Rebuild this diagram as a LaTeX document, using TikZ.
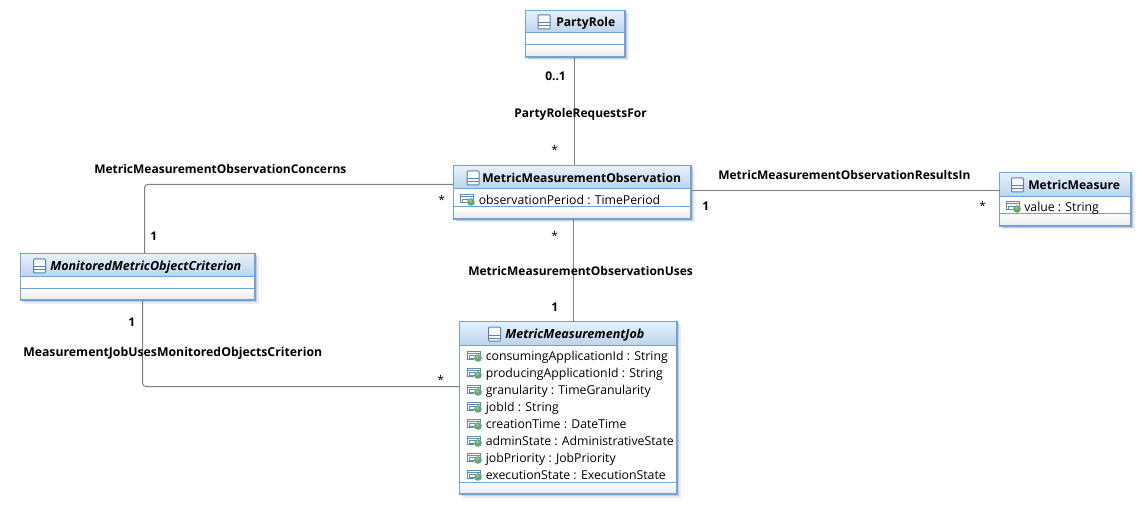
\documentclass[tikz,border=0pt]{standalone}
\usepackage{fontspec}
\setmainfont{Open Sans}
\usetikzlibrary{calc}
\definecolor{umlborder}{HTML}{6FA3D9}
\definecolor{headtop}{HTML}{E8F2FC}
\definecolor{headbot}{HTML}{BAD4EC}
\definecolor{linegray}{HTML}{7F7F7F}
\definecolor{ballgreen}{HTML}{5FA86A}
\tikzset{
  umlbox/.style={draw=umlborder,line width=1.1pt,fill=white,anchor=north west,inner sep=0pt,outer sep=0pt},
  sep/.style={draw=umlborder,line width=.75pt},
  conn/.style={draw=linegray,line width=.75pt},
  rolelabel/.style={anchor=west,inner sep=0pt,font=\fontsize{9}{11}\selectfont\bfseries,text=black,text height=9.3pt,text depth=2pt},
  widelabel/.style={anchor=west,inner sep=0pt,font=\fontsize{9.2}{11}\selectfont\bfseries,text=black,text height=9.3pt,text depth=2pt},
  starlabel/.style={anchor=west,inner sep=0pt,font=\fontsize{9}{11}\selectfont,text=black,text height=9.3pt,text depth=2pt},
  titletext/.style={anchor=west,inner sep=0pt,font=\fontsize{9.1}{11}\selectfont\bfseries,text=black,text height=9.3pt,text depth=2pt},
  attrtext/.style={anchor=west,inner sep=0pt,font=\fontsize{9.2}{11}\selectfont,text=black,text height=9.3pt,text depth=2pt},
}
% name, x1,y1,x2,y2(header bottom),y3(attr bottom),y4(bottom)
\newcommand{\classbox}[7]{%
  \fill[black!8] (#2+3.5,#3+3.5) rectangle (#4+3.5,#7+3.5);
  \fill[black!20] (#2+2,#3+2) rectangle (#4+2,#7+2);
  \node[umlbox,minimum width={(#4-#2)*0.75pt},minimum height={(#7-#3)*0.75pt}] (#1) at (#2,#3) {};
  \shade[top color=headtop,bottom color=headbot] (#2,#3) rectangle (#4,#5);
  \shade[top color=white,bottom color=black!9] (#2,#6) rectangle (#4,#7);
  \draw[sep] (#2,#5) -- (#4,#5);
  \draw[sep] (#2,#6) -- (#4,#6);
  \draw[umlborder,line width=1.1pt] (#2,#3) rectangle (#4,#7);
}
% name, icon x, y centre, text x, text, font switch
\newcommand{\classtitle}[6]{%
  \begin{scope}[shift={(#2,#3)}]
    \fill[black!2] (0,-7) rectangle (12,7);
    \draw[umlborder!80!black,line width=.75pt,rounded corners=.75pt] (0,-7) rectangle (12,7);
    \draw[umlborder!80!black,line width=.75pt] (0,1) -- (12,1) (0,4) -- (12,4);
  \end{scope}
  \node[titletext] (#1) at (#4,#3) {#6#5};
}
% name, icon x, y, text x, text
\newcommand{\attr}[5]{%
  \begin{scope}[shift={(#2,#3)}]
    \draw[umlborder!85!black,line width=.75pt,fill=white] (0,-5) rectangle (13,3);
    \draw[umlborder!85!black,line width=.75pt] (0,-3) -- (13,-3);
    \fill[white] (7,-1) rectangle (14,6);
    \draw[fill=white,draw=umlborder!85!black,line width=.6pt] (2,-1) rectangle (8,2);
    \fill[ballgreen] (11,2) circle (3.8);
    \fill[white,opacity=.3] (10.5,1) circle (1.8);
  \end{scope}
  \node[attrtext] (#1) at (#4,#3) {#5};
}
\newcommand{\italtitle}{\itshape\fontsize{9.4}{11}\selectfont}
\begin{document}
\begin{tikzpicture}[x=0.75pt,y=-0.75pt]
\useasboundingbox[fill=white] (0,0) rectangle (1144,509);
% boxes
\classbox{party}{525.5}{10.5}{625}{33}{45}{57}
\classtitle{partyT}{538}{22}{556}{PartyRole}{}
\classbox{obs}{453.5}{165.5}{691}{189}{207}{219}
\classtitle{obsT}{467}{178}{482}{MetricMeasurementObservation}{}
\attr{obsA}{460}{200}{478.5}{observationPeriod : TimePeriod}
\classbox{mon}{20.5}{253.5}{255}{277}{289}{300}
\classtitle{monT}{33.5}{266}{50}{MonitoredMetricObjectCriterion}{\italtitle}
\classbox{job}{459.5}{321.5}{677}{345}{482}{494}
\classtitle{jobT}{488.5}{334}{505}{MetricMeasurementJob}{\italtitle}
\attr{a1}{467}{356}{485.5}{consumingApplicationId : String}
\attr{a2}{467}{373}{485.5}{producingApplicationId : String}
\attr{a3}{467}{390}{485.5}{granularity : TimeGranularity}
\attr{a4}{467}{407}{485.5}{jobId : String}
\attr{a5}{467}{424}{485.5}{creationTime : DateTime}
\attr{a6}{467}{441}{485.5}{adminState : AdministrativeState}
\attr{a7}{467}{458}{485.5}{jobPriority : JobPriority}
\attr{a8}{467}{475}{485.5}{executionState : ExecutionState}
\classbox{meas}{999.5}{172.5}{1131}{197}{214}{226}
\classtitle{measT}{1011.5}{185}{1028}{MetricMeasure}{}
\attr{measA}{1006}{207}{1024}{value : String}
% routing coordinates
\coordinate (cPO) at (574,100);
\coordinate (cOJ) at (573.5,260);
\coordinate (cOM) at (800,190.5);
\coordinate (cCon) at (144.5,184.5);
\coordinate (cCri) at (142.5,386.5);
% connectors
\draw[conn] (party.south -| cPO) -- (obs.north -| cPO);
\draw[conn] (obs.south -| cOJ) -- (job.north -| cOJ);
\draw[conn] (obs.east |- cOM) -- (meas.west |- cOM);
\draw[conn,rounded corners=2.5pt] (mon.north -| cCon) -- (cCon) -- (obs.west |- cCon);
\draw[conn,rounded corners=2.5pt] (mon.south -| cCri) -- (cCri) -- (job.west |- cCri);
% labels
\node[rolelabel] (l1) at (545,76) {0..1};
\node[rolelabel] (l2) at (514,113) {PartyRoleRequestsFor};
\node[starlabel] (l3) at (551,150) {*};
\node[rolelabel] (l4) at (94,169) {MetricMeasurementObservationConcerns};
\node[starlabel] (l5) at (438,200) {*};
\node[rolelabel] (l6) at (150,236) {1};
\node[rolelabel] (l7) at (128,322) {1};
\node[widelabel] (l8) at (23,352) {MeasurementJobUsesMonitoredObjectsCriterion};
\node[starlabel] (l9) at (437,380) {*};
\node[starlabel] (l10) at (551,236) {*};
\node[rolelabel] (l11) at (468,271) {MetricMeasurementObservationUses};
\node[rolelabel] (l12) at (551,307) {1};
\node[rolelabel] (l13) at (718,175) {MetricMeasurementObservationResultsIn};
\node[rolelabel] (l14) at (702,206) {1};
\node[starlabel] (l15) at (979,206) {*};
\end{tikzpicture}
\end{document}
